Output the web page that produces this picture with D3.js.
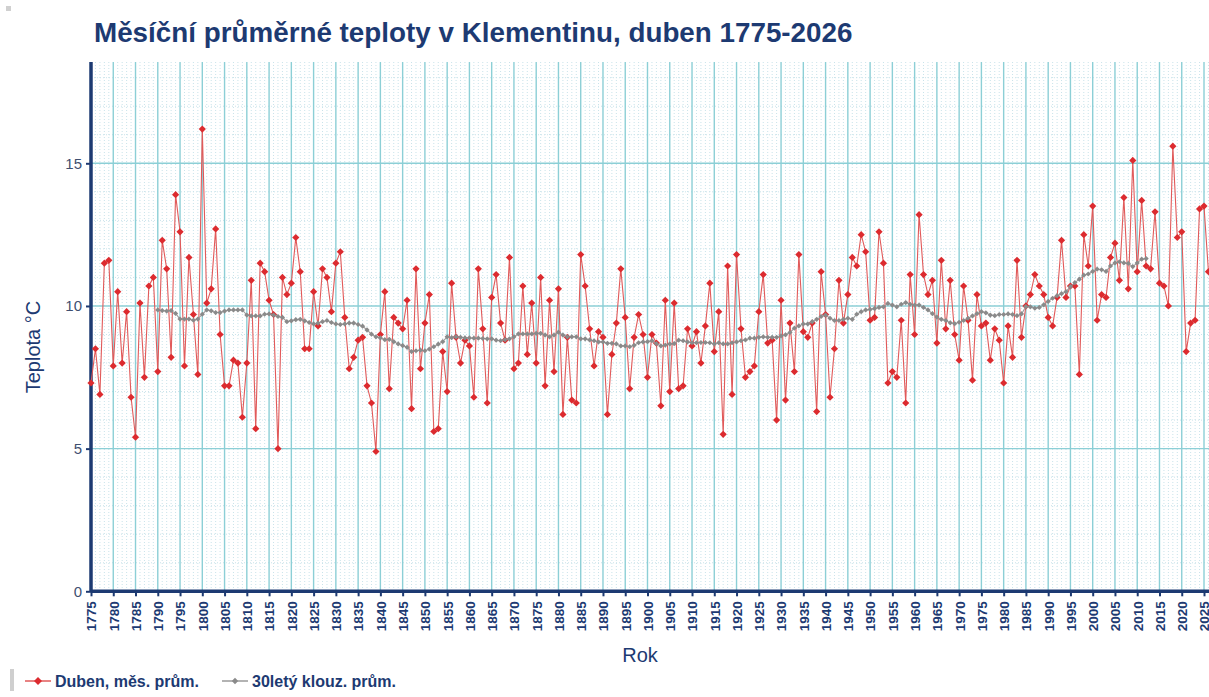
<!DOCTYPE html>
<html>
<head>
<meta charset="utf-8">
<script src="https://cdn.jsdelivr.net/npm/d3@7"></script>
<style>
html,body{margin:0;padding:0;background:#fff;overflow:hidden;}
svg{display:block;font-family:"Liberation Sans",Arial,sans-serif;}
</style>
</head>
<body>
<svg id="chart" width="1209" height="697"></svg>
<script>
// ---- data ----
const titleText = "Měsíční průměrné teploty v Klementinu, duben 1775-2026";
const xTitle = "Rok";
const yTitle = "Teplota °C";
const seriesNames = ["Duben, měs. prům.", "30letý klouz. prům."];
const firstYear = 1775;
const aprilTemps = [
  7.3, 8.5, 6.9, 11.5, 11.6, 7.9, 10.5, 8.0, 9.8, 6.8,
  5.4, 10.1, 7.5, 10.7, 11.0, 7.7, 12.3, 11.3, 8.2, 13.9,
  12.6, 7.9, 11.7, 9.7, 7.6, 16.2, 10.1, 10.6, 12.7, 9.0,
  7.2, 7.2, 8.1, 8.0, 6.1, 8.0, 10.9, 5.7, 11.5, 11.2,
  10.2, 9.7, 5.0, 11.0, 10.4, 10.8, 12.4, 11.2, 8.5, 8.5,
  10.5, 9.3, 11.3, 11.0, 9.8, 11.5, 11.9, 9.6, 7.8, 8.2,
  8.8, 8.9, 7.2, 6.6, 4.9, 9.0, 10.5, 7.1, 9.6, 9.4,
  9.2, 10.2, 6.4, 11.3, 7.8, 9.4, 10.4, 5.6, 5.7, 8.4,
  7.0, 10.8, 8.9, 8.0, 8.8, 8.6, 6.8, 11.3, 9.2, 6.6,
  10.3, 11.1, 9.4, 8.8, 11.7, 7.8, 8.0, 10.7, 8.3, 10.1,
  8.0, 11.0, 7.2, 10.2, 7.7, 10.6, 6.2, 8.9, 6.7, 6.6,
  11.8, 10.7, 9.2, 7.9, 9.1, 8.9, 6.2, 8.3, 9.4, 11.3,
  9.6, 7.1, 8.9, 9.7, 9.0, 7.5, 9.0, 8.7, 6.5, 10.2,
  7.0, 10.1, 7.1, 7.2, 9.2, 8.6, 9.1, 8.0, 9.3, 10.8,
  8.4, 9.8, 5.5, 11.4, 6.9, 11.8, 9.2, 7.5, 7.7, 7.9,
  9.8, 11.1, 8.7, 8.8, 6.0, 10.2, 6.7, 9.4, 7.7, 11.8,
  9.1, 8.9, 9.4, 6.3, 11.2, 9.7, 6.8, 8.5, 10.9, 9.4,
  10.4, 11.7, 11.4, 12.5, 11.9, 9.5, 9.6, 12.6, 11.5, 7.3,
  7.7, 7.5, 9.5, 6.6, 11.1, 9.0, 13.2, 11.1, 10.4, 10.9,
  8.7, 11.6, 9.2, 10.9, 9.0, 8.1, 10.7, 9.5, 7.4, 10.4,
  9.3, 9.4, 8.1, 9.2, 8.8, 7.3, 9.3, 8.2, 11.6, 8.9,
  10.0, 10.4, 11.1, 10.7, 10.4, 9.6, 9.3, 10.3, 12.3, 10.3,
  10.7, 10.7, 7.6, 12.5, 11.4, 13.5, 9.5, 10.4, 10.3, 11.7,
  12.2, 10.9, 13.8, 10.6, 15.1, 11.2, 13.7, 11.4, 11.3, 13.3,
  10.8, 10.7, 10.0, 15.6, 12.4, 12.6, 8.4, 9.4, 9.5, 13.4,
  13.5, 11.2
];
const avgFirstYear = 1790;
const movingAvg30 = [
  9.86, 9.84, 9.82, 9.84, 9.74, 9.54, 9.54, 9.54, 9.50, 9.54,
  9.71, 9.86, 9.83, 9.77, 9.77, 9.82, 9.86, 9.86, 9.86, 9.86,
  9.68, 9.65, 9.65, 9.65, 9.71, 9.72, 9.68, 9.63, 9.60, 9.45,
  9.48, 9.52, 9.53, 9.48, 9.42, 9.37, 9.40, 9.45, 9.49, 9.42,
  9.37, 9.35, 9.37, 9.40, 9.40, 9.35, 9.29, 9.16, 9.01, 8.92,
  8.88, 8.82, 8.83, 8.75, 8.67, 8.61, 8.55, 8.40, 8.43, 8.45,
  8.43, 8.49, 8.57, 8.66, 8.75, 8.92, 8.89, 8.92, 8.90, 8.88,
  8.88, 8.87, 8.87, 8.86, 8.85, 8.85, 8.80, 8.78, 8.82, 8.85,
  8.92, 9.02, 9.02, 9.02, 9.02, 9.04, 9.04, 8.98, 8.92, 8.98,
  9.08, 8.98, 8.92, 8.92, 8.92, 8.85, 8.85, 8.81, 8.78, 8.74,
  8.74, 8.69, 8.69, 8.67, 8.60, 8.60, 8.57, 8.62, 8.71, 8.74,
  8.75, 8.78, 8.68, 8.60, 8.63, 8.67, 8.68, 8.80, 8.78, 8.74,
  8.71, 8.71, 8.72, 8.72, 8.71, 8.67, 8.71, 8.67, 8.67, 8.71,
  8.74, 8.78, 8.81, 8.87, 8.87, 8.90, 8.92, 8.90, 8.90, 8.90,
  8.95, 8.99, 9.07, 9.22, 9.30, 9.37, 9.37, 9.45, 9.53, 9.63,
  9.68, 9.57, 9.49, 9.49, 9.53, 9.57, 9.53, 9.71, 9.80, 9.86,
  9.88, 9.91, 9.95, 9.97, 10.09, 10.03, 9.97, 10.06, 10.12, 10.06,
  10.03, 10.03, 9.95, 9.86, 9.73, 9.61, 9.53, 9.49, 9.41, 9.38,
  9.43, 9.49, 9.57, 9.65, 9.73, 9.80, 9.76, 9.68, 9.66, 9.70,
  9.70, 9.72, 9.70, 9.66, 9.72, 9.98, 9.97, 9.92, 9.95, 10.04,
  10.16, 10.27, 10.36, 10.43, 10.50, 10.68, 10.82, 10.94, 11.08, 11.12,
  11.21, 11.29, 11.27, 11.21, 11.40, 11.51, 11.55, 11.51, 11.49, 11.38,
  11.51, 11.64, 11.66
];
const xTicks = d3.range(1775, 2030, 5);
const yTicks = [0, 5, 10, 15];

// ---- drawing ----
const svg = d3.select("#chart");
const navy = "#1d3a72";
const x = d3.scaleLinear().domain([1775, 2025]).range([91, 1204]);
const y = d3.scaleLinear().domain([0, 18.55]).range([591.3, 62]);
const xMax = 1240;

const redData = aprilTemps.map((v, i) => ({year: firstYear + i, v}));
const grayData = movingAvg30.map((v, i) => ({year: avgFirstYear + i, v}));

// tiny grey square top-left
svg.append("rect").attr("x", 6).attr("y", 6).attr("width", 5).attr("height", 5).attr("fill", "#d0d0d0");

// minor grid (dotted)
const minor = svg.append("g");
d3.range(1775, 2032, 1).filter(yr => yr % 5 !== 0).forEach(yr => {
  minor.append("line").attr("x1", x(yr)).attr("x2", x(yr)).attr("y1", y(18.55)).attr("y2", y(0))
    .attr("stroke", "#c9e3ea").attr("stroke-width", 1).attr("stroke-dasharray", "1,2");
});
d3.range(1, 19, 1).filter(v => v % 5 !== 0).forEach(v => {
  minor.append("line").attr("x1", x(1775)).attr("x2", xMax).attr("y1", y(v)).attr("y2", y(v))
    .attr("stroke", "#c9e3ea").attr("stroke-width", 1).attr("stroke-dasharray", "1,2");
});
// major grid
const major = svg.append("g");
d3.range(1780, 2035, 5).forEach(yr => {
  major.append("line").attr("x1", x(yr)).attr("x2", x(yr)).attr("y1", y(18.55)).attr("y2", y(0))
    .attr("stroke", "#8ccfd6").attr("stroke-width", 1.4);
});
yTicks.filter(v => v > 0).forEach(v => {
  major.append("line").attr("x1", x(1775)).attr("x2", xMax).attr("y1", y(v)).attr("y2", y(v))
    .attr("stroke", "#8ccfd6").attr("stroke-width", 1.4);
});

// axes
const xAxis = svg.append("g").attr("transform", `translate(0,${y(0)})`)
  .call(d3.axisBottom(x).tickValues(xTicks).tickFormat(d3.format("d")).tickSize(5).tickSizeOuter(0));
xAxis.select(".domain").attr("stroke", navy).attr("stroke-width", 3.5).attr("d", `M${x(1775)},0H${xMax}`);
xAxis.selectAll(".tick line").attr("stroke", navy).attr("stroke-width", 2);
xAxis.selectAll(".tick text")
  .attr("transform", "rotate(-90)")
  .attr("x", -10).attr("y", 0).attr("dy", "0.36em")
  .attr("text-anchor", "end")
  .attr("fill", navy).attr("font-size", 13.5).attr("font-weight", "bold")
  .attr("font-family", "Liberation Sans, Arial, sans-serif");

const yAxis = svg.append("g").attr("transform", `translate(${x(1775)},0)`)
  .call(d3.axisLeft(y).tickValues(yTicks).tickSize(5).tickSizeOuter(0));
yAxis.select(".domain").attr("stroke", navy).attr("stroke-width", 3.5).attr("d", `M0,${y(18.55)}V${y(0)}`);
yAxis.selectAll(".tick line").attr("stroke", navy).attr("stroke-width", 2);
yAxis.selectAll(".tick text")
  .attr("x", -9).attr("fill", "#3f4f70").attr("font-size", 15)
  .attr("font-family", "Liberation Sans, Arial, sans-serif");

// series
const diamond = r => `M0,${-r}L${r},0L0,${r}L${-r},0Z`;
const line = d3.line().x(d => x(d.year)).y(d => y(d.v));

svg.append("path").datum(redData).attr("d", line)
  .attr("fill", "none").attr("stroke", "#e15a5a").attr("stroke-width", 1.1);
svg.append("g").selectAll("path").data(redData).join("path")
  .attr("d", diamond(3.6)).attr("transform", d => `translate(${x(d.year)},${y(d.v)})`)
  .attr("fill", "#dc2b2f");

svg.append("path").datum(grayData).attr("d", line)
  .attr("fill", "none").attr("stroke", "#9a9a9a").attr("stroke-width", 1.1);
svg.append("g").selectAll("path").data(grayData).join("path")
  .attr("d", diamond(2.6)).attr("transform", d => `translate(${x(d.year)},${y(d.v)})`)
  .attr("fill", "#8a8a8a");

// title
svg.append("text").attr("x", 94).attr("y", 42).text(titleText)
  .attr("fill", navy).attr("font-size", 27.8).attr("font-weight", "bold");

// axis titles
svg.append("text").attr("x", 640).attr("y", 662).attr("text-anchor", "middle").text(xTitle)
  .attr("fill", navy).attr("font-size", 20);
svg.append("text").attr("transform", "translate(40,347) rotate(-90)").attr("text-anchor", "middle").text(yTitle)
  .attr("fill", navy).attr("font-size", 20);

// legend
svg.append("rect").attr("x", 10).attr("y", 669).attr("width", 4).attr("height", 22).attr("fill", "#cfcfcf");
const legend = [
  {name: seriesNames[0], x0: 25, stroke: "#e15a5a", fill: "#dc2b2f", r: 4},
  {name: seriesNames[1], x0: 222, stroke: "#9a9a9a", fill: "#8a8a8a", r: 3.2}
];
legend.forEach(l => {
  const g = svg.append("g").attr("transform", `translate(${l.x0},681)`);
  g.append("line").attr("x1", 0).attr("x2", 26).attr("stroke", l.stroke).attr("stroke-width", 1.5);
  g.append("path").attr("d", diamond(l.r)).attr("transform", "translate(13,0)").attr("fill", l.fill);
  g.append("text").attr("x", 30).attr("y", 5.5).text(l.name)
    .attr("fill", navy).attr("font-size", 16).attr("font-weight", "bold");
});
</script>
</body>
</html>
